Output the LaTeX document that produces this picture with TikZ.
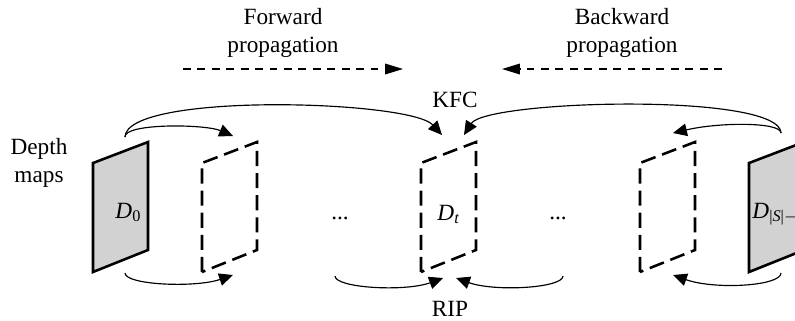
\documentclass[tikz,border=0pt]{standalone}
\usepackage{fontspec}
\setmainfont{Liberation Serif}
\usetikzlibrary{arrows.meta}

\begin{document}
\begin{tikzpicture}[x=0.0151cm, y=-0.0151cm,
        every node/.style={inner sep=0pt},
        mapframe/.style={line width=1.1pt, fill=gray!35},
        ghostframe/.style={line width=1.1pt, dash pattern=on 6.5pt off 3pt},
        link/.style={line width=0.5pt, -{Triangle[length=2.1mm, width=1.9mm]}},
        flow/.style={line width=0.6pt, dash pattern=on 3.4pt off 2.8pt, -{Triangle[length=2.7mm, width=1.6mm]}}]
        \useasboundingbox (0,0) rectangle (795,320);
        \clip (0,0) rectangle (795,320);

        % Ramki map glebi (lewy dolny rog)
        \coordinate (P0) at (93,272);
        \coordinate (P1) at (202,272);
        \coordinate (Pt) at (421,272);
        \coordinate (P2) at (640,272);
        \coordinate (PN) at (749,272);
        \draw[mapframe] (P0) -- ++(0,-109) -- ++(55,-21) -- ++(0,108) -- cycle;
        \draw[ghostframe] (P1) -- ++(0,-109) -- ++(55,-21) -- ++(0,108) -- cycle;
        \draw[ghostframe] (Pt) -- ++(0,-109) -- ++(55,-21) -- ++(0,108) -- cycle;
        \draw[ghostframe] (P2) -- ++(0,-109) -- ++(55,-21) -- ++(0,108) -- cycle;
        \draw[mapframe] (PN) -- ++(0,-109) -- ++(55,-21) -- ++(0,108) -- cycle;

        % Podpisy
        \node[anchor=base west] (d0) at (115,218) {\textit{D}\textsubscript{0}};
        \node[anchor=base west] (dt) at (437,220) {\textit{D}\textsubscript{\textit{t}}};
        \node[anchor=base west] (dN) at (752,218) {\textit{D}\textsubscript{|\textit{S}|$-$1}};
        \node[anchor=base] (gap1) at (340,219) {...};
        \node[anchor=base] (gap2) at (558,219) {...};
        \node[align=center] (depth) at (39,163) {Depth\\maps};
        \node[align=center] (fwd) at (283,33) {Forward\\propagation};
        \node[align=center] (bwd) at (622,33) {Backward\\propagation};
        \node (kfc) at (455,100) {KFC};
        \node[anchor=base] (rip) at (450,316) {RIP};

        % Kierunki propagacji
        \coordinate (f1) at (183,69);
        \coordinate (f2) at (403,69);
        \coordinate (b1) at (722,69);
        \coordinate (b2) at (502,69);
        \draw[flow] (f1) -- (f2);
        \draw[flow] (b1) -- (b2);

        % Konce lukow
        \coordinate (s0t) at (125,137);
        \coordinate (s0b) at (125,273);
        \coordinate (sNt) at (781,133);
        \coordinate (sNb) at (781,273);
        \coordinate (m1b) at (335,276);
        \coordinate (m2b) at (563,276);
        \coordinate (t1t) at (233,136);
        \coordinate (t1b) at (233,275);
        \coordinate (ttl) at (442,135);
        \coordinate (ttr) at (464,135);
        \coordinate (tbl) at (443,278);
        \coordinate (tbr) at (456,278);
        \coordinate (t2t) at (673,133);
        \coordinate (t2b) at (673,275);

        % KFC - gorne luki
        \draw[link] (s0t) .. controls (124,123) and (205,124) .. (t1t);
        \draw[link] (s0t) .. controls (126,92) and (410,100) .. (ttl);
        \draw[link] (sNt) .. controls (780,92) and (486,100) .. (ttr);
        \draw[link] (sNt) .. controls (781,122) and (720,122) .. (t2t);

        % RIP - dolne luki
        \draw[link] (s0b) .. controls (125,285) and (195,288) .. (t1b);
        \draw[link] (m1b) .. controls (335,288) and (405,292) .. (tbl);
        \draw[link] (m2b) .. controls (563,288) and (495,292) .. (tbr);
        \draw[link] (sNb) .. controls (781,286) and (715,290) .. (t2b);
    \end{tikzpicture}
\end{document}
